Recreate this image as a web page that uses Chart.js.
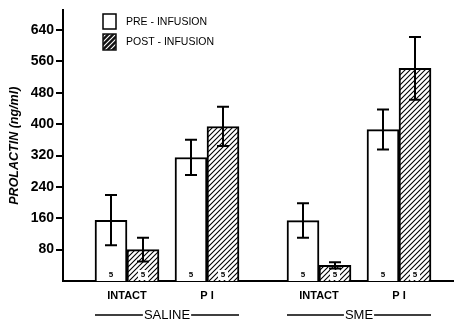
<!DOCTYPE html>
<html><head><meta charset="utf-8">
<script src="https://cdn.jsdelivr.net/npm/chart.js@4.4.0/dist/chart.umd.min.js"></script>
<style>html,body{margin:0;padding:0;background:#fff;}</style>
</head><body>
<canvas id="c" width="454" height="323"></canvas>
<script>
// ---- data ----
const groups = ['SALINE', 'SME'];
const conditions = ['INTACT', 'P I'];
const seriesLabels = ['PRE - INFUSION', 'POST - INFUSION'];
const preValues = [155, 315, 154, 386];
const preErrors = [64, 45, 44, 51];
const postValues = [80, 394, 40, 542];
const postErrors = [30, 50, 8, 80];
const preN = [5, 5, 5, 5];
const postN = [5, 5, 5, 5];
const yTicks = [80, 160, 240, 320, 400, 480, 560, 640];
const yTitle = 'PROLACTIN (ng/ml)';

// ---- layout / style ----
const FONT = "'Liberation Sans', Arial, Helvetica, sans-serif";
const groupGap = 2.4;
const xPos = [];
const tickText = [];
groups.forEach((g, gi) => conditions.forEach((c, ci) => { xPos.push(gi * groupGap + ci); tickText.push(c); }));

function makeHatch(bg, fg) {
  const s = 5;
  const cv = document.createElement('canvas');
  cv.width = s; cv.height = s;
  const c = cv.getContext('2d');
  c.fillStyle = bg; c.fillRect(0, 0, s, s);
  c.strokeStyle = fg; c.lineWidth = 1.1;
  c.beginPath();
  c.moveTo(0, s); c.lineTo(s, 0);
  c.moveTo(-1, 1); c.lineTo(1, -1);
  c.moveTo(s - 1, s + 1); c.lineTo(s + 1, s - 1);
  c.stroke();
  return c.createPattern(cv, 'repeat');
}

const ctx = document.getElementById('c').getContext('2d');
const hatch = makeHatch('#fff', '#000');
const hatchInv = makeHatch('#111', '#fff');

const errors = [preErrors, postErrors];
const ns = [preN, postN];

const overlay = {
  id: 'overlay',
  afterDatasetsDraw(chart) {
    const c = chart.ctx;
    const ys = chart.scales.y;
    const area = chart.chartArea;
    c.save();
    // sample-size labels
    chart.data.datasets.forEach((ds, d) => {
      const meta = chart.getDatasetMeta(d);
      meta.data.forEach((bar, i) => {
        const ty = area.bottom - 6;
        c.font = "bold 8px " + FONT;
        c.textAlign = 'center'; c.textBaseline = 'middle';
        if (d === 1) { c.fillStyle = '#fff'; c.fillRect(bar.x - 5, ty - 5, 10, 10); }
        c.fillStyle = '#000';
        c.fillText(String(ns[d][i]), bar.x, ty);
      });
    });
    // error bars
    c.strokeStyle = '#000'; c.lineWidth = 2;
    chart.data.datasets.forEach((ds, d) => {
      const meta = chart.getDatasetMeta(d);
      meta.data.forEach((bar, i) => {
        const v = ds.data[i].y, e = errors[d][i];
        const yt = ys.getPixelForValue(v + e), yb = ys.getPixelForValue(v - e);
        c.beginPath();
        c.moveTo(bar.x, yt); c.lineTo(bar.x, yb);
        c.moveTo(bar.x - 6, yt); c.lineTo(bar.x + 6, yt);
        c.moveTo(bar.x - 6, yb); c.lineTo(bar.x + 6, yb);
        c.stroke();
      });
    });
    // legend
    const lx = 103, ly = [14, 34];
    c.lineWidth = 1.5;
    c.fillStyle = '#fff'; c.fillRect(lx, ly[0], 13, 15); c.strokeRect(lx, ly[0], 13, 15);
    c.fillStyle = hatchInv; c.fillRect(lx, ly[1], 13, 16); c.strokeStyle = '#111'; c.strokeRect(lx, ly[1], 13, 16);
    c.fillStyle = '#000'; c.font = "10.5px " + FONT; c.textAlign = 'left'; c.textBaseline = 'middle';
    c.fillText(seriesLabels[0], 126, ly[0] + 8);
    c.fillText(seriesLabels[1], 126, ly[1] + 8);
    // group labels with lines
    const m0 = chart.getDatasetMeta(0), m1 = chart.getDatasetMeta(1);
    c.font = "13px " + FONT; c.textAlign = 'center';
    c.strokeStyle = '#000'; c.lineWidth = 1.5;
    groups.forEach((g, gi) => {
      const first = m0.data[gi * conditions.length];
      const last = m1.data[gi * conditions.length + conditions.length - 1];
      const x0 = first.x - first.width / 2, x1 = last.x + last.width / 2;
      const cx = (x0 + x1) / 2, y = 315;
      const w = c.measureText(g).width;
      c.fillText(g, cx, y);
      c.beginPath();
      c.moveTo(x0, y); c.lineTo(cx - w / 2 - 1, y);
      c.moveTo(cx + w / 2 + 1, y); c.lineTo(x1, y);
      c.stroke();
    });
    c.restore();
  }
};

new Chart(ctx, {
  type: 'bar',
  data: {
    datasets: [
      { label: seriesLabels[0], data: xPos.map((x, i) => ({ x, y: preValues[i] })),
        backgroundColor: '#fff', borderColor: '#000', borderWidth: 2, barThickness: 32, borderSkipped: 'bottom' },
      { label: seriesLabels[1], data: xPos.map((x, i) => ({ x, y: postValues[i] })),
        backgroundColor: hatch, borderColor: '#000', borderWidth: 2, barThickness: 32, borderSkipped: 'bottom' }
    ]
  },
  options: {
    responsive: false, animation: false, devicePixelRatio: 1,
    layout: { padding: { top: 5, left: 0, right: 0, bottom: 0 } },
    plugins: { legend: { display: false }, tooltip: { enabled: false } },
    scales: {
      x: {
        type: 'linear', min: -0.8, max: 4.0875, offset: false,
        grid: { display: false },
        border: { display: true, color: '#000', width: 2 },
        afterBuildTicks: s => { s.ticks = xPos.map(v => ({ value: v })); },
        afterFit: s => { s.height = 42; },
        ticks: { autoSkip: false, maxRotation: 0, padding: 0, color: '#000',
          font: { family: FONT, size: 11, weight: 'bold' },
          callback: (v, i) => tickText[i] }
      },
      y: {
        min: 0, max: 690,
        afterBuildTicks: s => { s.ticks = yTicks.map(v => ({ value: v })); },
        afterFit: s => { s.width = 63; },
        grid: { drawOnChartArea: false, color: '#000', lineWidth: 2, tickLength: 7 },
        border: { color: '#000', width: 2 },
        ticks: { padding: 2, color: '#000', font: { family: FONT, size: 14, weight: 'bold' } },
        title: { display: true, text: yTitle, color: '#000', padding: { top: 7, bottom: 0 },
          font: { family: FONT, size: 12.5, style: 'italic', weight: 'bold' } }
      }
    }
  },
  plugins: [overlay]
});
</script>
</body></html>
